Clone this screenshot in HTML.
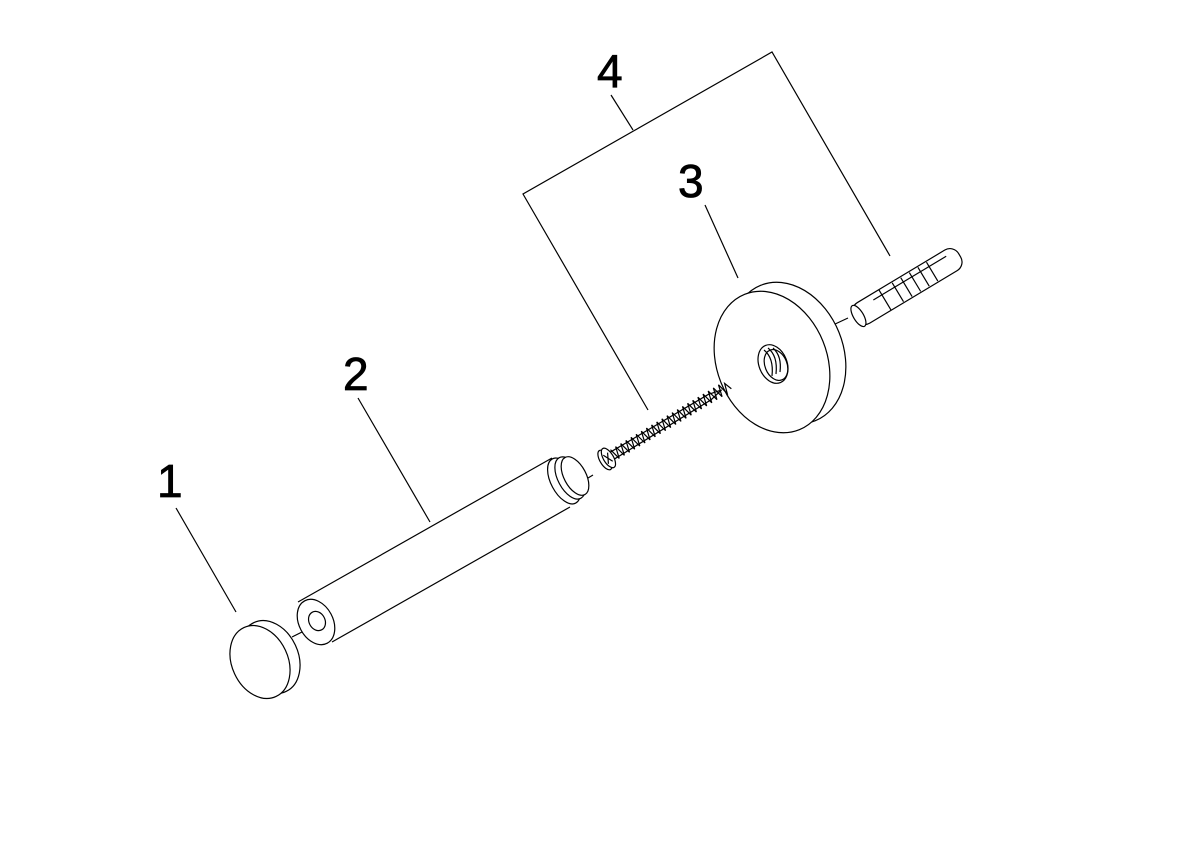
<!DOCTYPE html>
<html><head><meta charset="utf-8"><style>
html,body{margin:0;padding:0;background:#fff;}
svg{display:block;}
text{font-family:"Liberation Sans",sans-serif;font-size:46px;fill:#000;stroke:#000;stroke-width:0.8;}
</style></head><body>
<svg width="1191" height="842" viewBox="0 0 1191 842" xmlns="http://www.w3.org/2000/svg">
<g fill="none" stroke="#000" stroke-width="1.2">
<!-- leader lines -->
<polyline points="648,410 523,194 772,52 890,256"/>
<line x1="611" y1="95" x2="633" y2="130"/>
<line x1="705" y1="205" x2="738" y2="278"/>
<line x1="358" y1="398" x2="430" y2="522"/>
<line x1="176" y1="508" x2="236" y2="612"/>
<!-- center dashes -->
<line x1="292" y1="637" x2="302" y2="632"/>
<line x1="583" y1="481" x2="593" y2="475"/>
<line x1="728" y1="388" x2="765" y2="366" stroke-dasharray="12,4,3,4"/>
<line x1="833" y1="325" x2="848" y2="318"/>
<!-- disc 3 -->
<ellipse cx="788" cy="353" rx="55" ry="73" transform="rotate(-22 788 353)" fill="#fff"/>
<ellipse cx="772" cy="362" rx="55" ry="73" transform="rotate(-22 772 362)" fill="#fff"/>
<ellipse cx="773" cy="364" rx="14" ry="20" transform="rotate(-22 773 364)"/>
<ellipse cx="776" cy="365" rx="11" ry="16" transform="rotate(-22 776 365)"/>
<path d="M764 350 q10 8 8 26 M768 348 q10 8 8 26 M773 348 q9 8 7 24"/>
<!-- anchor -->
<g transform="rotate(-31 855 318)">
<rect x="855" y="306" width="122" height="24" rx="10" fill="#fff"/>
<ellipse cx="859" cy="318" rx="5" ry="12" fill="#fff"/>
<line x1="890" y1="306" x2="890" y2="330"/>
<line x1="905" y1="307" x2="905" y2="329"/>
<line x1="915" y1="307" x2="915" y2="329"/>
<line x1="925" y1="307" x2="925" y2="329"/>
<line x1="935" y1="307" x2="935" y2="329"/>
<line x1="945" y1="307" x2="945" y2="329"/>
<line x1="880" y1="312" x2="965" y2="312"/>
</g>
<!-- screw -->
<g transform="translate(605,460) rotate(-31)">
<path d="M8 -4 L122 -3 L136 0 L122 3 L8 4"/>
<path d="M10 -6 l3 12 l3 -12 l3 12 l3 -12 l3 12 l3 -12 l3 12 l3 -12 l3 12 l3 -12 l3 12 l3 -12 l3 12 l3 -12 l3 12 l3 -12 l3 12 l3 -12 l3 12 l3 -12 l3 12 l3 -12 l3 12 l3 -12 l3 12 l3 -12 l3 12 l3 -12 l3 12 l3 -12 l3 12 l3 -12 l3 12 l3 -12 l3 12 l3 -12 l3 12 l3 -12 l3 12 l3 -12 l3 12 l3 -12 l3 12 l3 -10 l3 8"/>
<ellipse cx="0" cy="0" rx="5" ry="11" fill="#fff"/>
<ellipse cx="4" cy="0" rx="5" ry="11" fill="#fff"/>
<path d="M1 -5 l5 10 M6 -5 l-5 10"/>
</g>
<!-- tube 2 -->
<polygon points="298,602 552,458 576,500 328,644" fill="#fff" stroke="none"/>
<line x1="298" y1="602" x2="552" y2="458"/>
<line x1="332" y1="642" x2="570" y2="507"/>
<ellipse cx="564" cy="481" rx="13" ry="25" transform="rotate(-28 564 481)" fill="#fff"/>
<ellipse cx="570" cy="478" rx="12" ry="23" transform="rotate(-28 570 478)" fill="#fff"/>
<ellipse cx="575" cy="476" rx="11" ry="21" transform="rotate(-28 575 476)" fill="#fff"/>
<ellipse cx="316" cy="622" rx="17" ry="24" transform="rotate(-28 316 622)" fill="#fff"/>
<ellipse cx="317" cy="621" rx="8" ry="10" transform="rotate(-28 317 621)"/>
<!-- cap 1 -->
<ellipse cx="270" cy="657" rx="28" ry="38" transform="rotate(-25 270 657)" fill="#fff"/>
<ellipse cx="260" cy="662" rx="28" ry="38" transform="rotate(-25 260 662)" fill="#fff"/>
</g>
<text x="597" y="87">4</text>
<text x="678" y="197">3</text>
<text x="343" y="390">2</text>
<text x="157" y="497">1</text>
</svg>
</body></html>
